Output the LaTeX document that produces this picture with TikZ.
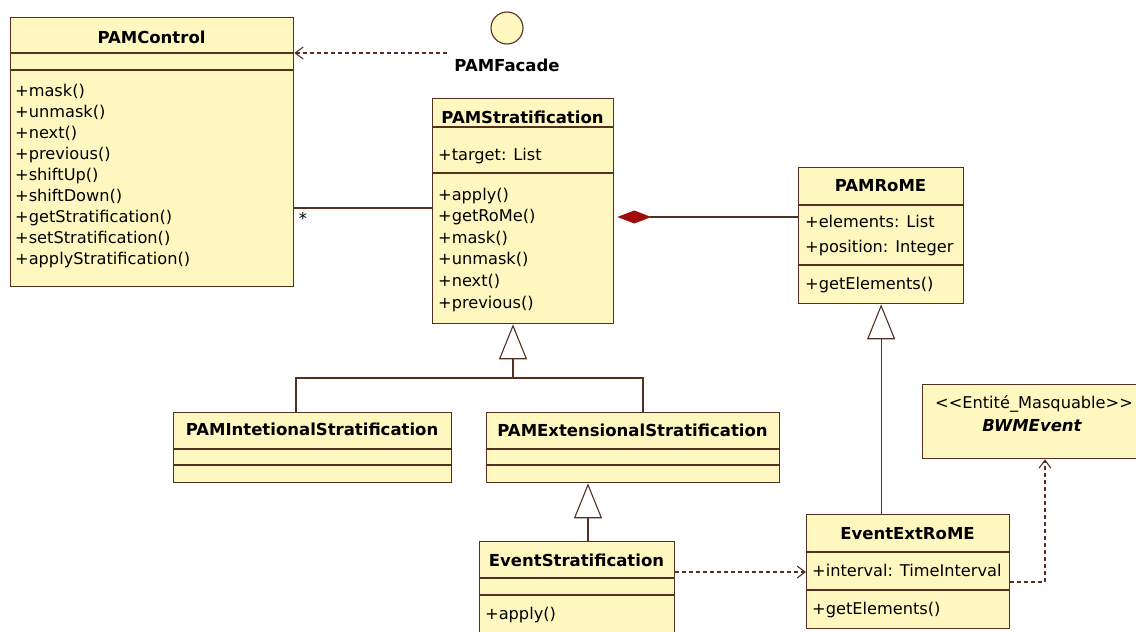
\documentclass[tikz,border=0pt]{standalone}
\usepackage{fontspec}
\setmainfont{DejaVu Sans}
\usetikzlibrary{arrows.meta}
\definecolor{classfill}{RGB}{255,247,192}
\definecolor{classline}{RGB}{84,48,34}
\definecolor{compred}{RGB}{160,12,12}
\tikzset{
	classbox/.style={draw=classline, fill=classfill, line width=1.3pt, inner sep=0pt, anchor=north west},
	classname/.style={font=\fontsize{16.5}{20}\selectfont\bfseries, anchor=base, inner sep=0pt},
	member/.style={font=\fontsize{16.2}{20}\selectfont, anchor=base west, inner sep=0pt},
	conn/.style={draw=classline, line width=1.1pt},
	inherit/.style={conn, -{Triangle[length=35pt, width=28pt, fill=white]}},
	depend/.style={conn, dash pattern=on 4pt off 3pt, -{Straight Barb[length=8pt, width=12pt]}},
	compose/.style={conn, shorten >=3pt, -{Diamond[length=34pt, width=13pt, color=compred]}},
}
\begin{document}
\begin{tikzpicture}[x=1pt, y=-1pt]
	\clip (0,0) rectangle (1136,632);
	\fill[white] (0,0) rectangle (1136,632);

	% PAMControl
	\node[classbox, minimum width=283pt, minimum height=269pt] (ctrl) at (10,17) {};
	\draw[conn] (ctrl.west |- 0,53) -- (ctrl.east |- 0,53);
	\draw[conn] (ctrl.west |- 0,70) -- (ctrl.east |- 0,70);
	\node[classname] (ctrlname) at (151.5,43) {PAMControl};
	\foreach \m [count=\i] in {+mask(),+unmask(),+next(),+previous(),+shiftUp(),+shiftDown(),+getStratification(),+setStratification(),+applyStratification()}
		\node[member] (ctrlop\i) at (15,{96+21*(\i-1)}) {\m};

	% PAMFacade
	\node[circle, draw=classline, fill=classfill, line width=1.1pt, minimum size=32pt, inner sep=0pt] (facade) at (507,28) {};
	\node[classname] (facadename) at (507,71) {PAMFacade};

	% PAMStratification
	\node[classbox, minimum width=181pt, minimum height=225pt] (strat) at (432,98) {};
	\draw[conn] (strat.west |- 0,127) -- (strat.east |- 0,127);
	\draw[conn] (strat.west |- 0,173) -- (strat.east |- 0,173);
	\node[classname] (stratname) at (522.5,123) {PAMStratification};
	\node[member] (stratattr) at (438,160.5) {+target: List};
	\foreach \m [count=\i] in {+apply(),+getRoMe(),+mask(),+unmask(),+next(),+previous()}
		\node[member] (stratop\i) at (438,{200+21.6*(\i-1)}) {\m};

	% PAMRoME
	\node[classbox, minimum width=165pt, minimum height=136pt] (rome) at (798,167) {};
	\draw[conn] (rome.west |- 0,205) -- (rome.east |- 0,205);
	\draw[conn] (rome.west |- 0,265) -- (rome.east |- 0,265);
	\node[classname] (romename) at (880.5,191) {PAMRoME};
	\node[member] (romeattr1) at (805,227) {+elements: List};
	\node[member] (romeattr2) at (805,252) {+position: Integer};
	\node[member] (romeop) at (805,289) {+getElements()};

	% PAMIntetionalStratification
	\node[classbox, minimum width=278pt, minimum height=70pt] (intent) at (173,412) {};
	\draw[conn] (intent.west |- 0,449) -- (intent.east |- 0,449);
	\draw[conn] (intent.west |- 0,465) -- (intent.east |- 0,465);
	\node[classname] (intentname) at (312,435) {PAMIntetionalStratification};

	% PAMExtensionalStratification
	\node[classbox, minimum width=293pt, minimum height=70pt] (extens) at (486,412) {};
	\draw[conn] (extens.west |- 0,449) -- (extens.east |- 0,449);
	\draw[conn] (extens.west |- 0,465) -- (extens.east |- 0,465);
	\node[classname] (extensname) at (632.5,436) {PAMExtensionalStratification};

	% EventStratification
	\node[classbox, minimum width=195pt, minimum height=100pt] (evstrat) at (479,541) {};
	\draw[conn] (evstrat.west |- 0,578) -- (evstrat.east |- 0,578);
	\draw[conn] (evstrat.west |- 0,595) -- (evstrat.east |- 0,595);
	\node[classname] (evstratname) at (576.5,566) {EventStratification};
	\node[member] (evstratop) at (485,619) {+apply()};

	% EventExtRoME
	\node[classbox, minimum width=203pt, minimum height=114pt] (evrome) at (806,514) {};
	\draw[conn] (evrome.west |- 0,552) -- (evrome.east |- 0,552);
	\draw[conn] (evrome.west |- 0,590) -- (evrome.east |- 0,590);
	\node[classname] (evromename) at (907.5,539) {EventExtRoME};
	\node[member] (evromeattr) at (812,576) {+interval: TimeInterval};
	\node[member] (evromeop) at (812,614) {+getElements()};

	% BWMEvent
	\node[classbox, minimum width=224pt, minimum height=74pt] (bwm) at (922,384) {};
	\node[member, anchor=base] (bwmstereo) at (1034,408) {<{}<Entité\_Masquable>{}>};
	\node[classname, font=\fontsize{16.5}{20}\selectfont\bfseries\itshape] (bwmname) at (1032,431) {BWMEvent};

	% connectors
	\coordinate (facadeend) at (447,53);
	\draw[depend] (facadeend) -- (ctrl.east |- facadeend);
	\draw[conn] (ctrl.east |- 0,208) -- (strat.west |- 0,208);
	\node[member, anchor=base] (mult) at (303,224) {*};
	\draw[compose] (rome.west |- 0,217) -- (strat.east |- 0,217);
	\coordinate (stratjoin) at (513,378);
	\draw[conn] (296,0 |- intent.north) |- (stratjoin) -| (643,0 |- extens.north);
	\draw[inherit] (stratjoin) -- (513,0 |- strat.south);
	\draw[inherit] (588,0 |- evstrat.north) -- (588,0 |- extens.south);
	\draw[inherit] (rome.south |- evrome.north) -- (rome.south);
	\draw[depend] (evstrat.east |- 0,572) -- (evrome.west |- 0,572);
	\draw[depend] (evrome.east |- 0,582) -| (1045,0 |- bwm.south);
\end{tikzpicture}
\end{document}
